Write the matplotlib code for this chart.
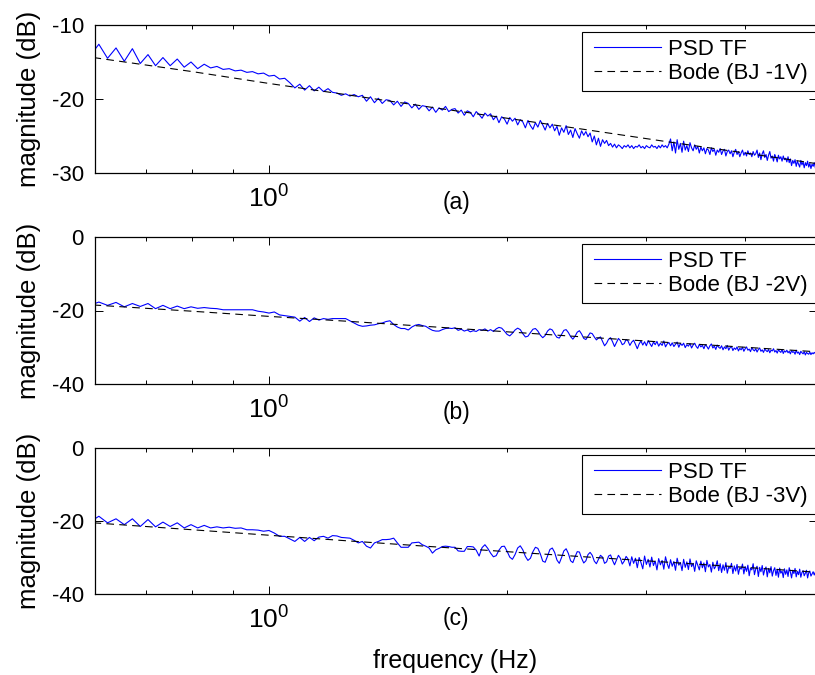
import numpy as np
import matplotlib
matplotlib.use('Agg')
import matplotlib.pyplot as plt
from matplotlib.ticker import FixedLocator, NullFormatter
from matplotlib.lines import Line2D
from matplotlib.legend_handler import HandlerLine2D

plt.rcParams['font.family'] = ['Liberation Sans', 'DejaVu Sans']
plt.rcParams['mathtext.fontset'] = 'custom'
plt.rcParams['mathtext.rm'] = 'Liberation Sans'
plt.rcParams['lines.scale_dashes'] = False

# PSD samples start at bin 38 with a spacing of 1/64 Hz
first_bin = 38
bin_width = 1 / 64

psd_a = [
    -14.2, -12.6, -14.5, -13.1, -14.9, -13.2, -15.2, -14.0, -15.5, -14.4,
    -15.5, -14.6, -15.7, -15.0, -15.9, -15.3, -15.8, -15.6, -16.0, -15.9,
    -16.2, -16.1, -16.4, -16.3, -16.6, -16.5, -16.9, -16.8, -17.3, -17.2,
    -17.8, -18.5, -18.0, -18.8, -18.2, -18.9, -18.4, -19.0, -18.6, -19.1,
    -19.2, -19.5, -19.3, -19.6, -19.4, -19.7, -19.5, -20.3, -19.7, -20.5,
    -19.9, -20.6, -20.1, -20.2, -20.8, -20.3, -21.0, -20.4, -20.6, -21.2,
    -20.7, -21.4, -20.9, -21.0, -21.6, -21.1, -21.8, -21.2, -21.5, -21.0,
    -21.7, -21.4, -21.3, -21.9, -21.5, -22.2, -21.6, -21.8, -22.4, -21.7,
    -22.1, -22.6, -21.9, -22.3, -22.0, -22.8, -22.3, -23.2, -22.4, -22.7,
    -23.4, -22.5, -23.0, -22.6, -23.5, -22.8, -23.1, -23.9, -22.9, -23.6,
    -24.1, -23.2, -23.8, -22.9, -23.5, -24.2, -23.3, -23.9, -23.4, -24.3,
    -23.7, -24.9, -23.9, -24.5, -23.6, -24.8, -24.2, -25.2, -24.0, -24.7,
    -25.3, -24.3, -24.9, -24.4, -25.1, -24.6, -25.8, -25.0, -26.2, -25.3,
    -26.4, -25.5, -26.0, -25.6, -26.3, -26.0, -26.5, -26.1, -26.6, -26.2,
    -26.4, -26.7, -26.3, -26.5, -26.2, -26.6, -26.3, -26.7, -26.4, -26.5,
    -26.2, -26.6, -26.4, -26.7, -26.3, -26.5, -26.6, -26.2, -26.5, -26.4,
    -26.7, -26.3, -26.6, -26.2, -26.5, -26.3, -26.6, -26.1, -25.4, -27.0,
    -25.8, -27.3, -25.5, -26.8, -26.0, -27.2, -25.7, -26.9, -26.3, -27.1,
    -25.9, -26.6, -27.0, -26.2, -26.8, -26.4, -27.3, -26.5, -27.0, -26.6,
    -27.4, -26.7, -26.9, -27.5, -26.6, -27.1, -26.8, -27.6, -26.9, -27.2,
    -26.7, -27.5, -27.0, -26.8, -27.7, -27.1, -26.9, -27.4, -27.0, -27.8,
    -27.2, -26.8, -27.5, -27.1, -27.8, -27.3, -26.9, -27.6, -27.2, -27.7,
    -27.0, -27.5, -27.3, -27.8, -27.1, -27.6, -27.4, -26.9, -27.9, -27.3,
    -28.2, -27.4, -27.0, -27.9, -27.5, -28.3, -27.6, -27.1, -28.0, -27.7,
    -28.4, -27.5, -27.9, -28.5, -27.6, -28.1, -27.8, -28.4, -27.7, -28.2,
    -28.0, -28.5, -27.8, -28.6, -28.1, -29.0, -28.3, -28.7, -28.2, -29.1,
    -28.4, -28.8, -29.2, -28.3, -28.9, -28.5, -29.3, -28.6, -29.0, -28.4,
    -29.2, -28.7, -29.4, -28.8, -29.1, -28.6, -29.3,
]

psd_b = [
    -18.6, -17.7, -18.6, -17.8, -19.0, -18.1, -18.9, -18.1, -19.5, -18.6,
    -19.5, -18.8, -19.5, -19.0, -19.4, -19.2, -19.4, -19.5, -19.8, -19.8,
    -19.8, -19.8, -19.8, -19.8, -20.2, -20.4, -20.7, -20.4, -21.2, -21.4,
    -21.6, -21.8, -22.9, -21.9, -23.0, -22.0, -22.6, -22.2, -22.4, -22.2,
    -22.2, -22.2, -22.2, -22.8, -23.4, -24.0, -24.3, -24.2, -24.0, -23.9,
    -23.6, -23.4, -23.0, -22.8, -23.8, -24.5, -24.9, -24.9, -25.3, -24.5,
    -24.0, -23.8, -24.1, -24.3, -24.9, -25.4, -25.6, -25.6, -25.2, -24.9,
    -24.8, -24.9, -24.7, -25.4, -25.1, -25.6, -25.3, -25.8, -25.5, -25.7,
    -25.2, -25.4, -25.0, -25.6, -25.2, -25.7, -25.0, -24.6, -24.8, -25.6,
    -26.5, -26.9, -26.2, -25.3, -24.8, -25.2, -26.3, -27.2, -27.0, -26.0,
    -25.1, -24.9, -25.6, -26.7, -27.4, -26.8, -25.6, -25.0, -25.3, -26.4,
    -27.3, -27.5, -26.5, -25.4, -25.2, -26.0, -27.1, -27.8, -27.0, -25.9,
    -25.5, -26.4, -27.6, -27.9, -27.0, -26.1, -26.3, -27.2, -28.0, -27.5,
    -27.2, -28.4, -29.6, -28.9, -27.8, -27.4, -28.5, -29.8, -28.7, -27.6,
    -28.2, -29.3, -29.0, -27.9, -28.3, -29.5, -28.6, -28.1, -29.2, -30.4,
    -29.1, -28.3, -29.4, -28.5, -29.6, -28.2, -29.0, -29.8, -28.6, -29.3,
    -28.4, -29.7, -28.9, -29.5, -28.3, -29.9, -29.1, -28.7, -29.6, -28.8,
    -29.8, -29.2, -28.6, -30.0, -29.0, -29.5, -28.9, -30.1, -29.3, -29.7,
    -29.0, -30.2, -29.4, -28.9, -29.8, -30.3, -29.2, -29.9, -29.5, -30.4,
    -29.3, -29.8, -30.5, -29.6, -29.1, -30.2, -29.7, -30.6, -29.4, -30.0,
    -30.3, -29.6, -30.7, -29.9, -30.4, -29.5, -30.8, -30.1, -29.8, -30.9,
    -30.2, -30.6, -29.9, -31.0, -30.3, -30.7, -30.0, -31.1, -30.4, -29.9,
    -30.8, -30.5, -31.2, -30.1, -30.7, -31.0, -30.4, -31.3, -30.6, -30.2,
    -31.1, -30.7, -31.4, -30.5, -30.9, -31.2, -30.6, -31.5, -30.8, -31.0,
    -30.4, -31.3, -30.9, -31.6, -30.7, -31.1, -31.4, -30.6, -31.7, -31.0,
    -31.3, -30.8, -31.5, -31.1, -31.8, -30.9, -31.4, -31.2, -31.9, -30.8,
    -31.6, -31.3, -32.0, -31.1, -31.5, -31.8, -31.2, -32.1, -31.4, -31.7,
    -31.9, -31.3, -32.0, -31.5, -31.8, -31.4, -31.7,
]

psd_c = [
    -20.3, -18.7, -20.5, -19.4, -21.0, -19.4, -21.5, -19.6, -21.6, -20.3,
    -21.5, -20.5, -21.9, -21.0, -21.9, -21.2, -21.9, -21.6, -21.9, -21.7,
    -22.0, -21.9, -22.4, -22.4, -22.5, -22.8, -22.6, -23.3, -24.2, -24.2,
    -24.9, -25.6, -24.5, -25.6, -24.5, -25.4, -24.4, -24.2, -24.7, -24.0,
    -24.1, -24.5, -24.6, -24.7, -25.3, -26.0, -25.6, -26.9, -27.4, -26.0,
    -25.6, -25.1, -25.1, -25.0, -24.7, -26.0, -27.2, -27.2, -27.2, -26.0,
    -25.9, -25.8, -26.5, -26.9, -27.4, -28.8, -27.9, -27.5, -27.0, -26.9,
    -27.0, -27.2, -27.2, -28.2, -28.3, -28.3, -27.0, -27.0, -27.1, -28.0,
    -29.6, -27.3, -26.5, -27.5, -28.8, -29.8, -29.5, -28.0, -27.0, -26.9,
    -28.3, -29.9, -30.5, -29.2, -27.4, -26.8, -27.9, -29.7, -30.8, -30.2,
    -28.4, -27.2, -27.5, -29.0, -31.0, -31.3, -29.6, -27.8, -27.4, -28.6,
    -30.7, -31.6, -30.0, -28.2, -27.6, -28.9, -30.9, -31.4, -29.8, -28.4,
    -28.5, -30.2, -31.5, -30.9, -29.2, -28.6, -29.4, -31.0, -31.7, -30.5,
    -29.4, -29.9, -31.6, -31.2, -29.6, -29.3, -30.8, -32.0, -30.7, -29.4,
    -30.2, -31.8, -31.0, -29.7, -30.4, -32.3, -29.8, -31.6, -30.2, -32.8,
    -30.0, -31.4, -33.1, -29.6, -31.9, -30.5, -32.6, -29.9, -32.2, -31.0,
    -33.4, -30.3, -32.0, -30.8, -33.2, -29.8, -31.7, -33.0, -30.6, -32.4,
    -31.1, -33.5, -30.2, -32.1, -31.4, -33.6, -30.5, -32.7, -31.2, -33.3,
    -30.4, -32.5, -31.6, -33.8, -30.9, -32.2, -33.4, -31.0, -32.8, -31.5,
    -33.9, -30.8, -32.6, -31.9, -34.0, -31.3, -33.1, -32.4, -30.9, -33.6,
    -31.7, -34.1, -32.0, -33.5, -31.4, -34.3, -32.6, -33.0, -31.6, -34.4,
    -32.3, -33.7, -31.9, -34.6, -32.8, -33.2, -31.8, -34.5, -32.5, -33.8,
    -32.1, -35.0, -32.9, -33.4, -31.7, -34.7, -33.1, -32.4, -35.2, -32.7,
    -33.9, -32.2, -34.8, -33.3, -32.6, -35.3, -33.0, -34.2, -32.5, -35.1,
    -33.6, -32.8, -34.9, -33.2, -35.4, -32.9, -34.3, -33.7, -35.5, -33.1,
    -34.6, -33.4, -35.2, -32.8, -34.0, -35.6, -33.5, -34.4, -33.0, -35.3,
    -33.8, -34.7, -33.2, -35.4, -34.1, -33.6, -35.0, -34.3, -33.5, -35.6,
    -34.2, -33.7, -35.1, -34.5, -33.9, -34.8, -34.0,
]

# Bode magnitude of the fitted BJ models
bode_freq = [0.6, 0.8, 1.0, 1.25, 1.6, 2.0, 2.5, 3.2, 4.0, 4.9]
bode_a = [-14.4, -16.3, -17.9, -19.4, -21.1, -22.6, -24.1, -25.8, -27.3, -28.7]
bode_b = [-18.5, -20.2, -21.6, -22.9, -24.4, -25.8, -27.2, -28.7, -30.0, -31.2]
bode_c = [-20.5, -22.4, -23.9, -25.4, -27.0, -28.4, -29.8, -31.3, -32.7, -34.0]

panels = [
    (psd_a, bode_a, 'Bode (BJ -1V)', '(a)', (-30, -10), [-30, -20, -10]),
    (psd_b, bode_b, 'Bode (BJ -2V)', '(b)', (-40, 0), [-40, -20, 0]),
    (psd_c, bode_c, 'Bode (BJ -3V)', '(c)', (-40, 0), [-40, -20, 0]),
]

# axes boxes in pixels: top, bottom; caption offset below axes
W, H = 815, 675
boxes = [(25, 173, 30), (237, 384, 28), (448, 594, 25)]
left_px, right_px = 95, 817
ax_w = right_px - left_px

fig = plt.figure(figsize=(W / 100, H / 100), dpi=100)

for (psd, bode, bode_label, tag, ylim, yticks), (top, bottom, cap) in zip(panels, boxes):
    ax_h = bottom - top
    ax = fig.add_axes([left_px / W, 1 - bottom / H, ax_w / W, ax_h / H])
    freq = (first_bin + np.arange(len(psd))) * bin_width
    ax.plot(freq, psd, color='#0000ff', lw=0.8, label='PSD TF')
    ax.plot(bode_freq, bode, color='k', lw=0.8, dashes=(5.5, 3.8), label=bode_label)

    ax.set_xscale('log')
    ax.set_xlim(0.6026, 4.93)
    ax.set_ylim(*ylim)
    ax.set_yticks(yticks)
    ax.set_yticklabels([str(t) for t in yticks])
    ax.xaxis.set_major_locator(FixedLocator([1.0]))
    ax.xaxis.set_minor_locator(FixedLocator([0.7, 0.8, 0.9, 2, 3, 4]))
    ax.xaxis.set_minor_formatter(NullFormatter())
    ax.yaxis.set_minor_locator(FixedLocator([]))

    ax.tick_params(which='both', direction='in', top=True, right=True, width=0.7)
    ax.tick_params(which='major', length=5.5)
    ax.tick_params(which='minor', length=3)
    ax.tick_params(axis='y', labelsize=16, pad=8)
    ax.tick_params(axis='x', labelsize=19, pad=9)
    for s in ax.spines.values():
        s.set_linewidth(0.9)

    ax.set_ylabel('magnitude (dB)', fontsize=18.5, labelpad=8)
    ax.text(0.5, -cap / ax_h, tag, transform=ax.transAxes,
            ha='center', va='center', fontsize=16.5)

    # legend box runs past the right edge of the picture
    x0 = (582 - left_px) / ax_w
    leg = ax.legend(loc='upper left', mode='expand',
                    bbox_to_anchor=(x0, 1 - 62 / ax_h, (840 - 582) / ax_w, 55 / ax_h),
                    borderaxespad=0, fancybox=False, framealpha=1, edgecolor='k',
                    fontsize=16, handlelength=3.25, handletextpad=0.32,
                    borderpad=0.3, labelspacing=0.15,
                    handler_map={Line2D: HandlerLine2D(xpad=0.25)})
    leg.get_frame().set_linewidth(0.8)

fig.text(455 / W, 1 - 661 / H, 'frequency (Hz)', ha='center', va='center', fontsize=18)

fig.savefig('out.png', dpi=100)
